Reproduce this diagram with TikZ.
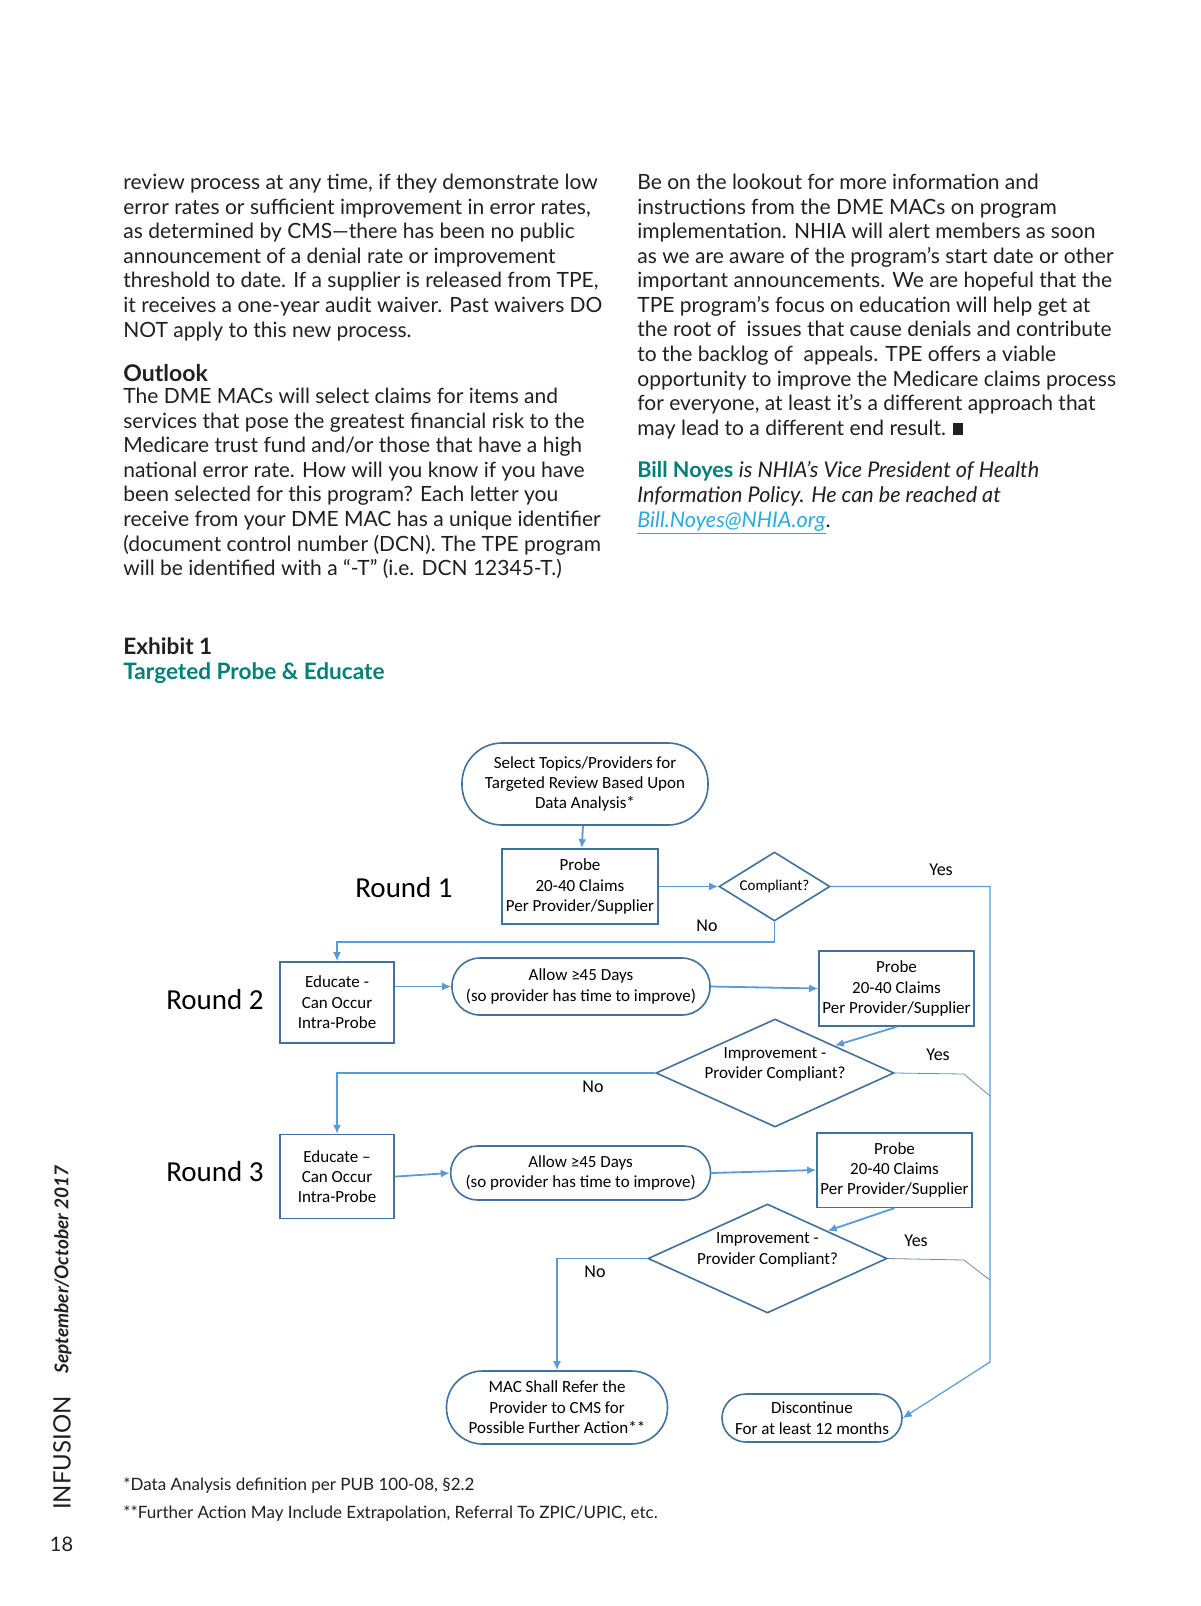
\documentclass[tikz,border=0pt]{standalone}
\usepackage{fontspec}
\setmainfont{Lato}
\newfontfamily\chartfont{Carlito}
\usetikzlibrary{arrows.meta,positioning,shapes.geometric}

\definecolor{bodygray}{RGB}{35,31,32}
\definecolor{exhibitteal}{RGB}{0,128,118}
\definecolor{linkblue}{RGB}{41,171,226}
\definecolor{flowline}{RGB}{91,155,213}
\definecolor{flowedge}{RGB}{65,113,156}

\begin{document}
\begin{tikzpicture}[
  x=0.5pt, y=-0.5pt,
  >=Latex,
  body/.style={
    anchor=base west,
    inner sep=0pt,
    align=left,
    text=bodygray,
    font=\fontsize{10.5}{12.29}\selectfont
  },
  box/.style={
    draw=flowedge,
    line width=0.8pt,
    align=center,
    inner sep=1pt,
    font=\chartfont\fontsize{8.5}{10.2}\selectfont
  },
  term/.style={box, rounded corners=#1},
  decision/.style={box, diamond, inner sep=0pt},
  roundlabel/.style={font=\chartfont\fontsize{14.5}{16}\selectfont},
  answer/.style={font=\chartfont\fontsize{9}{10}\selectfont},
  arrow/.style={-{Latex[length=4.5pt,width=4pt]}, draw=flowline, line width=0.9pt},
  joinline/.style={draw=flowline!55!gray, line width=0.4pt}
]

\fill[white] (0,0) rectangle (1200,1606);
\useasboundingbox (0,0) rectangle (1200,1606);

% article text (anchored at the last baseline)
\node[body] (colA) at (123,337) {
  review process at any time, if they demonstrate low\\
  error rates or sufficient improvement in error rates,\\
  as determined by CMS—there has been no public\\
  announcement of a denial rate or improvement\\
  threshold to date. If a supplier is released from TPE,\\
  it receives a one-year audit waiver. Past waivers DO\\
  NOT apply to this new process.
};
\node[body, font=\bfseries\fontsize{11.5}{13}\selectfont] (outlook) at (123,381) {Outlook};
\node[body] (colB) at (123,575.6) {
  The DME MACs will select claims for items and\\
  services that pose the greatest financial risk to the\\
  Medicare trust fund and/or those that have a high\\
  national error rate. How will you know if you have\\
  been selected for this program? Each letter you\\
  receive from your DME MAC has a unique identifier\\
  (document control number (DCN). The TPE program\\
  will be identified with a “-T” (i.e. DCN 12345-T.)
};
\node[body] (colC) at (637,435.3) {
  Be on the lookout for more information and\\
  instructions from the DME MACs on program\\
  implementation. NHIA will alert members as soon\\
  as we are aware of the program’s start date or other\\
  important announcements. We are hopeful that the\\
  TPE program’s focus on education will help get at\\
  the root of\ \ issues that cause denials and contribute\\
  to the backlog of\ \ appeals. TPE offers a viable\\
  opportunity to improve the Medicare claims process\\
  for everyone, at least it’s a different approach that\\
  may lead to a different end result. \rule{5pt}{6pt}
};
\node[body, font=\fontsize{10.8}{12.29}\selectfont] (bio) at (637,527) {
  {\bfseries\color{exhibitteal}Bill Noyes} \itshape is NHIA’s Vice President of Health\\
  \itshape Information Policy. He can be reached at\\
  {\itshape\color{linkblue}\underline{Bill.Noyes@NHIA.org}}.
};

% exhibit heading
\node[body, font=\bfseries\fontsize{11.3}{13}\selectfont] (exhibit) at (123,654) {Exhibit 1};
\node[body, text=exhibitteal, font=\bfseries\fontsize{11.3}{13}\selectfont] (title) at (123,679) {Targeted Probe \& Educate};

% round 1
\node[term=20pt, minimum width=123pt, minimum height=41pt] (select) at (585,784) {Select Topics/Providers for\\Targeted Review Based Upon\\Data Analysis*};
\node[box, minimum width=78pt, minimum height=37.5pt] (probeA) at (580,886.5) {Probe\\20-40 Claims\\Per Provider/Supplier};
\node[decision, aspect=1.6, minimum width=55.5pt, minimum height=34.5pt,
  font=\chartfont\fontsize{7.5}{9}\selectfont] (compliant) at (774.5,886.5) {Compliant?};
\node[roundlabel] (roundA) at (404,888) {Round 1};
\node[answer] (yesA) at (941,870) {Yes};
\node[answer] (noA) at (707,926) {No};

% round 2
\node[box, minimum width=57pt, minimum height=40.5pt] (educateB) at (337,1002.5) {Educate -\\Can Occur\\Intra-Probe};
\node[roundlabel] (roundB) at (215,1000) {Round 2};
\node[term=14pt, minimum width=129pt, minimum height=28.5pt] (allowB) at (581,986.5) {Allow ≥45 Days\\(so provider has time to improve)};
\node[box, minimum width=77.5pt, minimum height=37.5pt] (probeB) at (896.5,988.5) {Probe\\20-40 Claims\\Per Provider/Supplier};
\node[decision, aspect=2.18, minimum width=119pt, minimum height=54pt, text depth=10pt, inner sep=-4pt] (improveB) at (775,1073) {Improvement -\\Provider Compliant?};
\node[answer] (yesB) at (938,1055) {Yes};
\node[answer] (noB) at (593,1087) {No};

% round 3
\node[box, minimum width=57pt, minimum height=42pt] (educateC) at (337,1176.6) {Educate –\\Can Occur\\Intra-Probe};
\node[roundlabel] (roundC) at (215,1172) {Round 3};
\node[term=13.5pt, minimum width=130pt, minimum height=27pt] (allowC) at (580.6,1173) {Allow ≥45 Days\\(so provider has time to improve)};
\node[box, minimum width=77.5pt, minimum height=37.3pt] (probeC) at (894.5,1170) {Probe\\20-40 Claims\\Per Provider/Supplier};
\node[decision, aspect=2.19, minimum width=119.5pt, minimum height=54.5pt, text depth=10pt, inner sep=-4pt] (improveC) at (767.5,1258.5) {Improvement -\\Provider Compliant?};
\node[answer] (yesC) at (916,1241) {Yes};
\node[answer] (noC) at (595,1272) {No};

% outcomes
\node[term=18pt, minimum width=110.5pt, minimum height=36.5pt] (refer) at (557,1407.5) {MAC Shall Refer the\\Provider to CMS for\\Possible Further Action**};
\node[term=12pt, minimum width=90pt, minimum height=24pt] (stop) at (812,1418) {Discontinue\\For at least 12 months};

\coordinate (bendA) at (990,1362);
\coordinate (joinB) at (990,1096);
\coordinate (joinC) at (990,1280);

\draw[arrow] (select) -- (probeA);
\draw[arrow] (probeA) -- (compliant);
\draw[arrow] (compliant.south) -- ++(0,20) -| (educateB.north);
\draw[arrow, line width=0.6pt] (compliant.east) -| (bendA) -- (stop.east);
\draw[arrow] (educateB.east |- allowB.west) -- (allowB.west);
\draw[arrow] (allowB.east) -- (probeB.west);
\draw[arrow] (probeB.south) -- (improveB.north east);
\draw[arrow] (improveB.west) -| (educateC.north);
\draw[joinline] (improveB.east) -- ++(69,1) -- (joinB);
\draw[arrow] (educateC.east) -- (allowC.west);
\draw[arrow] (allowC.east) -- (probeC.west);
\draw[arrow] (probeC.south) -- (improveC.north east);
\draw[arrow] (improveC.west) -| (refer.north);
\draw[joinline] (improveC.east) -- ++(76,1.5) -- (joinC);

% footnotes
\node[body, font=\fontsize{8.5}{10}\selectfont] (noteA) at (123,1490) {*Data Analysis definition per PUB 100-08, §2.2};
\node[body, font=\fontsize{8.5}{10}\selectfont] (noteB) at (123,1518.6) {**Further Action May Include Extrapolation, Referral To ZPIC/UPIC, etc.};

% side strip
\node[rotate=90, inner sep=0pt, text=bodygray, font=\bfseries\itshape\fontsize{9.5}{11}\selectfont] (issue) at (63,1269.5) {September/October 2017};
\node[rotate=90, inner sep=0pt, text=bodygray, font=\fontsize{12}{14}\selectfont] (brand) at (62,1453) {INFUSION};
\node[inner sep=0pt, text=bodygray, font=\fontsize{10}{12}\selectfont] (page) at (61.5,1544) {18};

\end{tikzpicture}
\end{document}
